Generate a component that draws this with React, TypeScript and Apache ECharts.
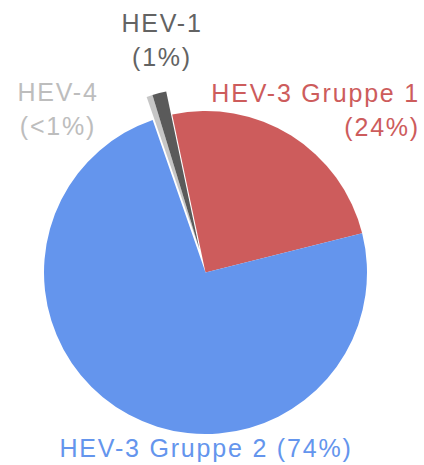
import React, { useEffect, useRef } from "react";
import * as echarts from "echarts";

const categories = ["HEV-3 Gruppe 1", "HEV-3 Gruppe 2", "HEV-4", "HEV-1"];
const values = [24.4, 73.6, 0.6, 1.4];
const percentLabels = ["24%", "74%", "<1%", "1%"];
const colors = ["#CD5C5C", "#6495ED", "#C6C6C6", "#5A5A5A"];
const labelColors = ["#CD5C5C", "#6495ED", "#BDBDBD", "#636363"];
const exploded = [false, false, true, true];
const twoLine = [true, false, true, true];

// label anchor positions (label layout only)
const labelPos = [
  { x: 420, y: 110, align: "right" },
  { x: 206, y: 448, align: "center" },
  { x: 58, y: 109, align: "center" },
  { x: 162, y: 40, align: "center" },
];

const CENTER = [205.5, 272.5];
const RADIUS = 161.5;
const EXPLODE = [-6, -23];
const FONT = "'Liberation Sans', Arial, sans-serif";

export default function App() {
  const ref = useRef<HTMLDivElement>(null);
  useEffect(() => {
    if (!ref.current) return;
    const chart = echarts.init(ref.current, null, { renderer: "svg" });
    const makeData = (visible: (i: number) => boolean) =>
      categories.map((name, i) => ({
        name,
        value: values[i],
        itemStyle: {
          color: visible(i) ? colors[i] : "rgba(0,0,0,0)",
          borderWidth: 0,
        },
        label: {
          show: visible(i),
          color: labelColors[i],
          align: labelPos[i].align,
          formatter: twoLine[i]
            ? `${name}\n(${percentLabels[i]})`
            : `${name} (${percentLabels[i]})`,
        },
      }));
    const common = {
      type: "pie",
      radius: RADIUS,
      startAngle: 101.9,
      clockwise: true,
      silent: true,
      avoidLabelOverlap: false,
      emphasis: { disabled: true },
      labelLine: { show: false },
      label: {
        position: "outside",
        fontFamily: FONT,
        fontSize: 25,
        lineHeight: 34,
      },
      labelLayout: (params: any) => {
        const p = labelPos[params.dataIndex];
        return { x: p.x, y: p.y, align: p.align, verticalAlign: "middle" };
      },
    };
    chart.setOption({
      animation: false,
      series: [
        {
          ...common,
          name: "base",
          center: CENTER,
          data: makeData((i) => !exploded[i]),
        },
        {
          ...common,
          name: "exploded",
          center: [CENTER[0] + EXPLODE[0], CENTER[1] + EXPLODE[1]],
          data: makeData((i) => exploded[i]),
        },
      ],
    });
    return () => chart.dispose();
  }, []);
  return (
    <>
      <style>{`.pie-root text { letter-spacing: 1.8px; }`}</style>
      <div
        ref={ref}
        className="pie-root"
        style={{ position: "fixed", left: 0, top: 0, width: 424, height: 465, background: "#fff" }}
      />
    </>
  );
}
